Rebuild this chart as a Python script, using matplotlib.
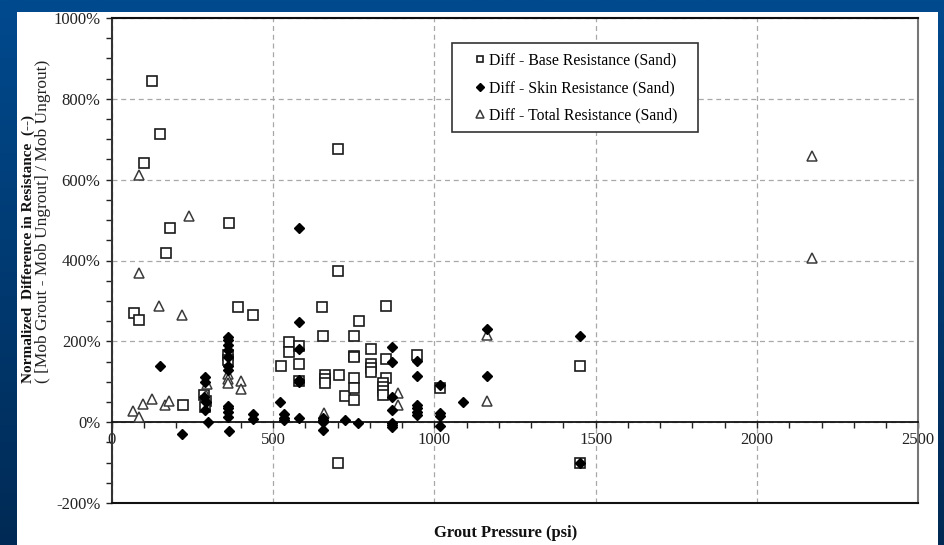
import matplotlib
matplotlib.use("Agg")
import matplotlib.pyplot as plt
import numpy as np
from matplotlib.patches import Rectangle
from matplotlib.colors import LinearSegmentedColormap
from matplotlib.ticker import MultipleLocator, FuncFormatter

# grout pressure (psi) and normalized difference (%)
base_x = [126, 150, 99, 365, 180, 167, 701, 701, 69, 86, 393, 437, 221, 287, 292, 290,
          360, 360, 524, 551, 551, 582, 582, 580, 651, 655, 661, 661, 661, 704, 722,
          850, 765, 752, 803, 752, 752, 850, 945, 804, 804, 804, 752, 850, 752,
          842, 842, 842, 842, 752, 1018, 1450, 700, 1450]
base_y = [844, 714, 642, 492, 480, 418, 676, 374, 269, 254, 284, 264, 42, 68, 52, 38,
          165, 155, 139, 199, 174, 188, 145, 101, 284, 213, 116, 106, 98, 116, 64,
          287, 250, 213, 180, 164, 160, 157, 167, 145, 134, 123, 110, 109, 84,
          98, 88, 77, 67, 55, 84, 140, -100, -100]

skin_x = [149, 580, 219, 363, 288, 290, 286, 292, 288, 300,
          360, 360, 360, 360, 360, 360, 360, 360, 360, 360, 360,
          437, 437, 522, 535, 535, 535, 580, 580, 580, 580, 580,
          654, 654, 656, 656, 723, 762,
          868, 868, 868, 868, 868, 868, 868,
          945, 945, 945, 945, 945, 945,
          1018, 1018, 1018, 1018, 1088, 1162, 1162, 1450, 1450]
skin_y = [140, 480, -30, -22, 112, 100, 62, 50, 30, 0,
          210, 203, 190, 178, 160, 140, 128, 40, 35, 25, 12,
          19, 9, 50, 19, 11, 5, 248, 180, 104, 100, 10,
          10, 5, 1, -20, 6, -3,
          186, 148, 63, 31, -3, -7, -11,
          151, 114, 42, 34, 25, 17,
          91, 23, 16, -9, 50, 231, 114, 212, -100]

total_x = [85, 239, 85, 148, 219, 67, 85, 97, 124, 165, 179, 402, 401, 296, 293,
           360, 360, 360, 658, 888, 888, 1162, 1162, 2171, 2171]
total_y = [611, 511, 368, 287, 266, 27, 13, 46, 58, 43, 53, 102, 81, 95, 68,
           120, 108, 98, 23, 71, 43, 215, 52, 658, 406]

labels = ["Diff - Base Resistance (Sand)", "Diff - Skin Resistance (Sand)",
          "Diff - Total Resistance (Sand)"]

plt.rcParams['font.family'] = ['Liberation Serif', 'DejaVu Serif']

W, H = 945, 545
fig = plt.figure(figsize=(W / 100, H / 100), dpi=100)

# blue slide background with white panel
bg = fig.add_axes([0, 0, 1, 1])
grad = np.linspace(0, 1, 256).reshape(-1, 1)
cmap = LinearSegmentedColormap.from_list("bg", ["#004a8e", "#002a55"])
bg.imshow(grad, aspect='auto', cmap=cmap, extent=[0, 1, 0, 1])
bg.add_patch(Rectangle((17 / W, 0), 921 / W, 533 / H, transform=bg.transAxes,
                       fc='white', ec='none', zorder=2))
bg.set_xlim(0, 1)
bg.set_ylim(0, 1)
bg.axis('off')

ax = fig.add_axes([111.7 / W, 1 - 503 / H, (918.3 - 111.7) / W, (503 - 18) / H])
ax.set_facecolor('white')
ax.set_xlim(0, 2500)
ax.set_ylim(-200, 1000)

ax.plot(base_x, base_y, ls='none', marker='s', ms=6.5, mfc='white', mec='#1a1a1a',
        mew=1.2, label=labels[0], zorder=3)
ax.plot(skin_x, skin_y, ls='none', marker='D', ms=5, color='black', label=labels[1], zorder=4)
ax.plot(total_x, total_y, ls='none', marker='^', ms=7.5, mfc='white', mec='#3a3a3a',
        mew=1.1, label=labels[2], zorder=3)

ax.xaxis.set_major_locator(MultipleLocator(500))
ax.xaxis.set_minor_locator(MultipleLocator(100))
ax.yaxis.set_major_locator(MultipleLocator(200))
ax.yaxis.set_minor_locator(MultipleLocator(50))
ax.yaxis.set_major_formatter(FuncFormatter(lambda v, p: "%d%%" % v))

ax.grid(True, which='major', ls=(0, (4, 3)), color='#a8a8a8', lw=0.9)
ax.set_axisbelow(True)

ax.spines['bottom'].set_position(('data', 0))
ax.spines['bottom'].set_color('#111111')
ax.spines['bottom'].set_linewidth(1.3)
ax.spines['left'].set_color('#333333')
ax.spines['left'].set_linewidth(1.5)
ax.spines['top'].set_color('#111111')
ax.spines['top'].set_linewidth(1.5)
ax.spines['right'].set_color('#777777')
ax.spines['right'].set_linewidth(1.5)
# bottom frame line at -200%
ax.plot([0, 1], [0, 0], transform=ax.transAxes, color='#111111', lw=1.5, clip_on=False, zorder=5)

ax.tick_params(axis='x', which='both', direction='out', length=4, width=1, colors='#222222',
               labelsize=12, pad=3)
ax.tick_params(axis='y', which='both', direction='out', length=4, width=1, colors='#222222',
               labelsize=12, pad=4)

fig.text(28 / W, 1 - 383 / H, "Normalized  Difference in Resistance  (--)", rotation=90,
         ha='center', va='bottom', fontsize=11, fontweight='bold', color='#111111')
fig.text(43 / W, 1 - 383 / H, "( [Mob Grout - Mob Ungrout] / Mob Ungrout)", rotation=90,
         ha='center', va='bottom', fontsize=12.5, color='#222222')
fig.text(506 / W, 1 - 533 / H, "Grout Pressure (psi)", ha='center', va='center',
         fontsize=12, fontweight='bold', color='#111111')

# legend box
fig.add_artist(Rectangle((452 / W, 1 - 132 / H), 246 / W, 89 / H, transform=fig.transFigure,
                         fc='white', ec='#333333', lw=1.2, zorder=4))
h, l = ax.get_legend_handles_labels()
fig.legend(h, l, loc='upper left', bbox_to_anchor=(466 / W, 1 - 45 / H),
           bbox_transform=fig.transFigure, frameon=False, fontsize=11.3, handlelength=0.8,
           handletextpad=0.15, labelspacing=0.72, borderpad=0, markerscale=0.75)

fig.savefig("out.png", dpi=100)
